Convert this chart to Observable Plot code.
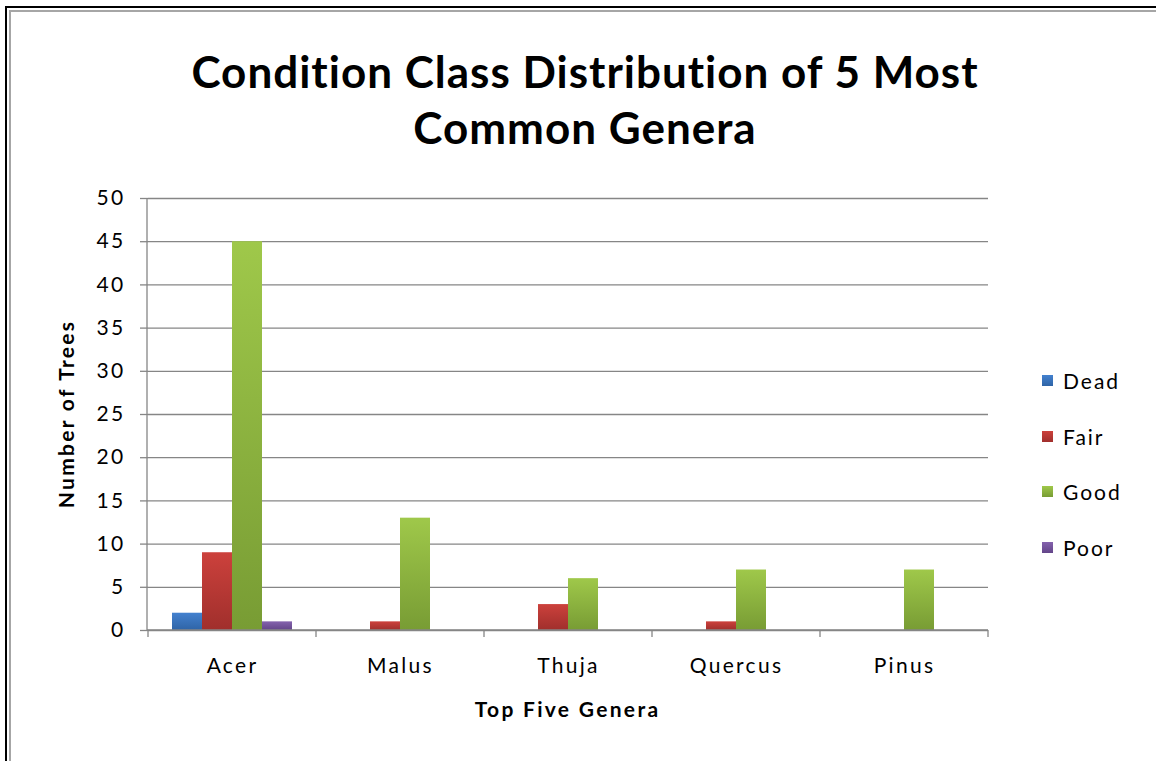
<!DOCTYPE html>
<html>
<head>
<meta charset="utf-8">
<script src="https://cdn.jsdelivr.net/npm/d3@7"></script>
<script src="https://cdn.jsdelivr.net/npm/@observablehq/plot@0.6"></script>
<style>
  html, body { margin: 0; padding: 0; background: #fff; }
  #wrap { position: relative; width: 1156px; height: 761px; overflow: hidden; font-family: Lato, "Open Sans", sans-serif; color: #000; }
  .b1 { position: absolute; left: 5px; top: 6px; width: 1200px; height: 800px; border-left: 2px solid #000; border-top: 2px solid #000; }
  .b2 { position: absolute; left: 9px; top: 10px; width: 1200px; height: 800px; border-left: 2px solid #a6a6a6; border-top: 2px solid #a6a6a6; }
  #title { position: absolute; left: 0; top: 43px; width: 1170px; text-align: center; font-weight: bold; font-size: 44px; letter-spacing: 1px; line-height: 56px; }
  #chart { position: absolute; left: 0; top: 150px; }
  #chart svg text { letter-spacing: 2.3px; }
  #legend { position: absolute; left: 1042px; top: 368px; font-size: 21px; letter-spacing: 2px; }
  .li { position: absolute; left: 0; white-space: nowrap; height: 26px; line-height: 26px; }
  .sw { position: absolute; left: 0; top: 7px; width: 11px; height: 11px; }
  .lt { position: absolute; left: 21px; top: 0; }
</style>
</head>
<body>
<div id="wrap">
  <div class="b1"></div>
  <div class="b2"></div>
  <div id="title">Condition Class Distribution of 5 Most<br>Common Genera</div>
  <div id="chart"></div>
  <div id="legend"></div>
</div>
<script>
const genera = ["Acer", "Malus", "Thuja", "Quercus", "Pinus"];
const conditions = ["Dead", "Fair", "Good", "Poor"];
const dead = [2, 0, 0, 0, 0];
const fair = [9, 1, 3, 1, 0];
const good = [45, 13, 6, 7, 7];
const poor = [1, 0, 0, 0, 0];
const yTicks = [0, 5, 10, 15, 20, 25, 30, 35, 40, 45, 50];
const colorsTop = ["#4381cf", "#cc413c", "#9fc84a", "#8462ad"];
const colorsBottom = ["#2f64a6", "#a02f2c", "#789c34", "#634589"];

const series = [dead, fair, good, poor];
const data = [];
genera.forEach((g, i) => conditions.forEach((c, j) => data.push({genus: g, cond: c, value: series[j][i]})));

const gradIds = conditions.map(c => "grad-" + c);

const chart = Plot.plot({
  width: 1000,
  height: 600,
  marginLeft: 147,
  marginRight: 12,
  marginTop: 48,
  marginBottom: 120,
  style: {fontFamily: "Lato, 'Open Sans', sans-serif", fontSize: "21px", color: "#000", background: "transparent"},
  fx: {domain: genera, paddingInner: 0, paddingOuter: 0, label: null},
  x: {domain: conditions, paddingInner: 0, paddingOuter: 0.755, axis: null},
  y: {domain: [0, 50], label: null},
  color: {domain: conditions, range: gradIds.map(id => `url(#${id})`)},
  marks: [
    Plot.ruleY(yTicks, {stroke: "#868686", strokeWidth: 1.3, strokeOpacity: 1}),
    Plot.barY(data, {fx: "genus", x: "cond", y: "value", fill: "cond", insetLeft: 0, insetRight: 0}),
    Plot.axisY(yTicks, {tickSize: 8, tickPadding: 15, stroke: "#868686", strokeWidth: 1.3, fontSize: 21, label: null}),
    Plot.axisFx({anchor: "bottom", tickSize: 0, tickPadding: 28, fontSize: 21, label: null})
  ]
});

// gradients
const svg = d3.select(chart);
const defs = svg.insert("defs", ":first-child");
conditions.forEach((c, j) => {
  const lg = defs.append("linearGradient").attr("id", gradIds[j]).attr("x1", 0).attr("y1", 0).attr("x2", 0).attr("y2", 1);
  lg.append("stop").attr("offset", "0%").attr("stop-color", colorsTop[j]);
  lg.append("stop").attr("offset", "100%").attr("stop-color", colorsBottom[j]);
});

// axis lines and category boundary ticks from the library's scales
const fx = chart.scale("fx");
const y = chart.scale("y");
const left = fx.range[0], right = fx.range[1];
const y0 = y.apply(0), y50 = y.apply(50);
const g = svg.append("g").attr("stroke", "#868686").attr("stroke-width", 1.3);
g.append("line").attr("x1", left).attr("x2", left).attr("y1", y50).attr("y2", y0);
g.append("line").attr("x1", left).attr("x2", right).attr("y1", y0).attr("y2", y0);
const bounds = genera.map(gn => fx.apply(gn)).concat([right]);
bounds.forEach(bx => g.append("line").attr("x1", bx).attr("x2", bx).attr("y1", y0).attr("y2", y0 + 7));

// axis titles
svg.append("text").attr("transform", `translate(${69},${(y0 + y50) / 2}) rotate(-90)`)
  .attr("text-anchor", "middle").attr("dominant-baseline", "middle")
  .attr("font-weight", "bold").attr("font-size", 21).attr("fill", "#000").text("Number of Trees");
svg.append("text").attr("x", (left + right) / 2).attr("y", y0 + 82)
  .attr("text-anchor", "middle").attr("dominant-baseline", "middle")
  .attr("font-weight", "bold").attr("font-size", 21).attr("fill", "#000").text("Top Five Genera");

document.getElementById("chart").appendChild(chart);

// legend
const legend = document.getElementById("legend");
conditions.forEach((c, j) => {
  const item = document.createElement("div");
  item.className = "li";
  item.style.top = (j * 55.5) + "px";
  item.innerHTML = `<span class="sw" style="background:linear-gradient(${colorsTop[j]},${colorsBottom[j]})"></span><span class="lt">${c}</span>`;
  legend.appendChild(item);
});
</script>
</body>
</html>
